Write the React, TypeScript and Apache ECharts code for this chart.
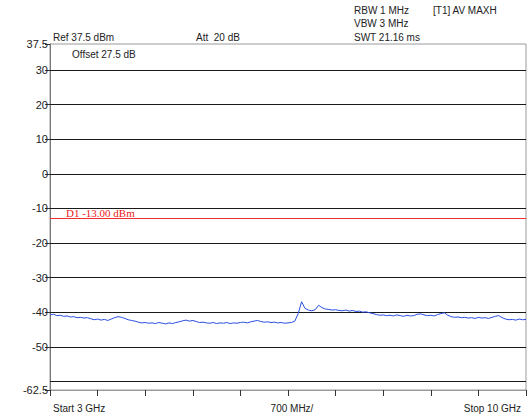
import React, { useEffect, useRef } from "react";
import * as echarts from "echarts";

// Frequency sweep 3–10 GHz, step 0.05 GHz
const startGHz = 3;
const stepGHz = 0.05;
const traceDbm: number[] = [
  -40.8, -40.6, -41.0, -40.9, -41.2, -41.1, -41.4, -41.3, -41.6, -41.5,
  -41.7, -41.6, -41.9, -42.2, -42.0, -42.3, -42.1, -42.4, -42.0, -41.6,
  -41.3, -41.5, -41.8, -42.2, -42.4, -42.6, -42.9, -43.1, -43.0, -43.2,
  -43.1, -43.3, -43.0, -43.2, -43.4, -43.1, -43.3, -43.0, -42.8, -42.5,
  -42.3, -42.6, -42.4, -42.7, -43.0, -42.9, -43.1, -43.2, -43.0, -43.3,
  -43.1, -43.2, -43.0, -43.3, -43.1, -43.2, -43.0, -42.9, -43.1, -42.8,
  -42.6, -42.4, -42.7, -42.9, -42.8, -43.0, -42.9, -43.1, -43.0, -43.2,
  -43.1, -43.0, -42.6, -40.4, -37.0, -38.9, -39.4, -39.6, -39.3, -38.0,
  -38.7, -39.1, -39.2, -39.4, -39.3, -39.5, -39.6, -39.4, -39.7, -39.5,
  -39.8, -39.7, -40.0, -39.9, -40.2, -40.4, -40.7, -40.9, -40.8, -41.0,
  -40.9, -41.1, -40.8, -41.0, -41.2, -40.9, -41.1, -41.0, -40.6, -40.5,
  -40.8, -41.0, -40.9, -41.1, -40.7, -40.4, -40.2, -40.9, -41.3, -41.5,
  -41.4, -41.6, -41.5, -41.7, -41.6, -41.8, -41.5, -41.7, -41.6, -41.8,
  -41.5, -41.2, -41.0, -41.6, -42.0, -42.2, -42.1, -42.3, -42.0, -42.2,
  -42.1,
];

const yMin = -62.5;
const yMax = 37.5;
const yLabelValues = [37.5, 30, 20, 10, 0, -10, -20, -30, -40, -50, -62.5];
const gridLineValues = [30, 20, 10, 0, -10, -20, -30, -40, -50, -60];
const xTickValues = [3, 3.7, 4.4, 5.1, 5.8, 6.5, 7.2, 7.9, 8.6, 9.3, 10];
const displayLineDbm = -13;
const displayLineLabel = "D1 -13.00 dBm";

const headerTexts = [
  { text: "Ref 37.5 dBm", x: 53, y: 37 },
  { text: "Att  20 dB", x: 196, y: 37 },
  { text: "RBW 1 MHz", x: 354, y: 10 },
  { text: "VBW 3 MHz", x: 354, y: 23 },
  { text: "SWT 21.16 ms", x: 354, y: 37 },
  { text: "[T1] AV MAXH", x: 433, y: 10 },
  { text: "Offset 27.5 dB", x: 72, y: 54 },
];
const xLabels = { start: "Start 3 GHz", center: "700 MHz/", stop: "Stop 10 GHz" };

const FONT = "'Liberation Sans', Arial, sans-serif";

export default function App() {
  const ref = useRef<HTMLDivElement>(null);
  useEffect(() => {
    if (!ref.current) return;
    const chart = echarts.init(ref.current, undefined, { renderer: "svg" });
    const data = traceDbm.map((v, i) => [+(startGHz + i * stepGHz).toFixed(2), v]);
    chart.setOption({
      animation: false,
      backgroundColor: "#ffffff",
      grid: {
        left: 50,
        right: 2,
        top: 44,
        bottom: 28,
        show: true,
        borderColor: "#9a9a9a",
        borderWidth: 1,
        backgroundColor: "transparent",
      },
      xAxis: {
        type: "value",
        min: 3,
        max: 10,
        axisLine: { show: true, onZero: false, lineStyle: { color: "#9a9a9a", width: 1 } },
        axisTick: {
          show: true,
          inside: false,
          length: 6,
          customValues: xTickValues,
          lineStyle: { color: "#333", width: 1 },
        },
        axisLabel: { show: false },
        splitLine: { show: false },
      },
      yAxis: {
        type: "value",
        min: yMin,
        max: yMax,
        axisLine: { show: true, onZero: false, lineStyle: { color: "#777", width: 1 } },
        axisTick: {
          show: true,
          length: 5,
          customValues: yLabelValues,
          lineStyle: { color: "#333", width: 1 },
        },
        axisLabel: {
          show: true,
          customValues: yLabelValues,
          margin: 2,
          color: "#222",
          fontFamily: FONT,
          fontSize: 11,
          formatter: (v: number) => String(v),
        },
        splitLine: { show: false },
      },
      series: [
        {
          type: "line",
          data,
          showSymbol: false,
          symbol: "none",
          lineStyle: { color: "#2a4ee0", width: 1 },
          z: 5,
          markLine: {
            silent: true,
            symbol: "none",
            label: { show: false },
            data: [
              ...gridLineValues.map((v) => ({
                yAxis: v,
                lineStyle: { color: "#1a1a1a", width: 1, type: "solid" },
              })),
              {
                yAxis: displayLineDbm,
                lineStyle: { color: "#f03030", width: 1, type: "solid" },
              },
            ],
          },
        },
      ],
      graphic: [
        ...headerTexts.map((t) => ({
          type: "text",
          x: t.x,
          y: t.y,
          style: {
            text: t.text,
            fill: "#222",
            font: `10px ${FONT}`,
            textVerticalAlign: "middle",
          },
        })),
        {
          type: "text",
          x: 66,
          y: 213,
          style: {
            text: displayLineLabel,
            fill: "#ee2020",
            font: "11px 'Liberation Serif', 'Times New Roman', serif",
            textVerticalAlign: "middle",
          },
        },
        {
          type: "text",
          x: 53,
          y: 408,
          style: { text: xLabels.start, fill: "#222", font: `10px ${FONT}`, textVerticalAlign: "middle" },
        },
        {
          type: "text",
          x: 292,
          y: 408,
          style: {
            text: xLabels.center,
            fill: "#222",
            font: `10px ${FONT}`,
            textAlign: "center",
            textVerticalAlign: "middle",
          },
        },
        {
          type: "text",
          x: 521,
          y: 408,
          style: {
            text: xLabels.stop,
            fill: "#222",
            font: `10px ${FONT}`,
            textAlign: "right",
            textVerticalAlign: "middle",
          },
        },
      ],
    });
    return () => chart.dispose();
  }, []);
  return (
    <div
      ref={ref}
      style={{ position: "fixed", left: 0, top: 0, width: 528, height: 418 }}
    />
  );
}
